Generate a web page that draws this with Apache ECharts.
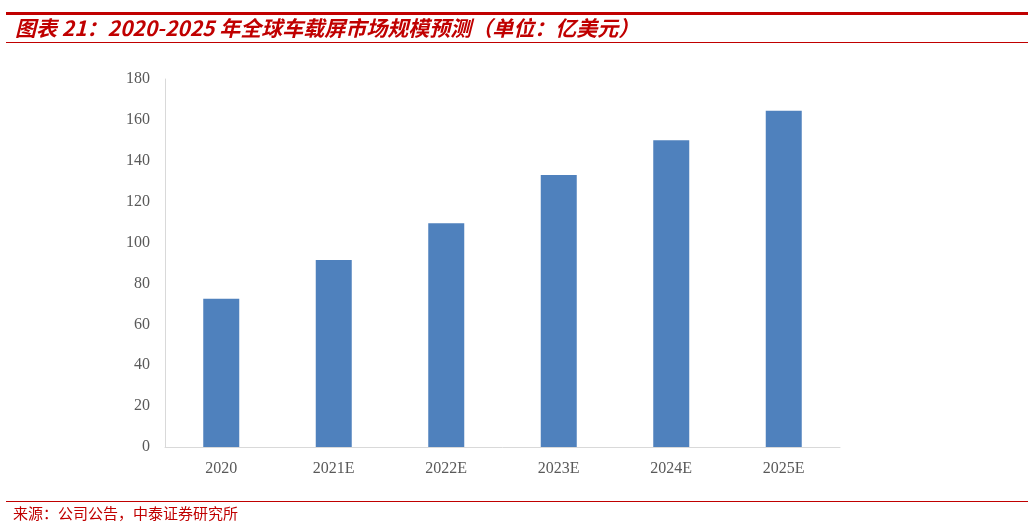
<!DOCTYPE html>
<html>
<head>
<meta charset="utf-8">
<script src="https://cdn.jsdelivr.net/npm/echarts@6/dist/echarts.min.js"></script>
<style>
html,body{margin:0;padding:0;background:#fff;}
#chart{width:1031px;height:525px;}
</style>
</head>
<body>
<div id="chart"></div>
<script>
const categories = ['2020', '2021E', '2022E', '2023E', '2024E', '2025E'];
const marketSize = [72.5, 91.5, 109.5, 133, 150, 164.5];
const yTicks = { min: 0, max: 180, interval: 20 };

const chart = echarts.init(document.getElementById('chart'));
const red = '#c00000';
chart.setOption({
  backgroundColor: '#fff',
  animation: false,
  title: [{
    text: '图表 21：2020-2025 年全球车载屏市场规模预测（单位：亿美元）',
    left: 10, top: 13,
    textStyle: { color: red, fontSize: 21, fontStyle: 'italic', fontWeight: 'bold', fontFamily: '"Noto Sans CJK SC", sans-serif' }
  }, {
    text: '来源：公司公告，中泰证券研究所',
    left: 8, top: 501,
    textStyle: { color: red, fontSize: 15, fontWeight: 'normal', fontFamily: '"Noto Sans CJK SC", sans-serif' }
  }],
  graphic: [
    { type: 'rect', shape: { x: 6, y: 12, width: 1022, height: 3 }, style: { fill: red } },
    { type: 'rect', shape: { x: 6, y: 42, width: 1022, height: 1 }, style: { fill: red } },
    { type: 'rect', shape: { x: 6, y: 501, width: 1022, height: 1 }, style: { fill: red } }
  ],
  grid: { left: 165, right: 191, top: 79, bottom: 78 },
  xAxis: {
    type: 'category',
    data: categories,
    axisLine: { lineStyle: { color: '#d9d9d9' } },
    axisTick: { show: false },
    axisLabel: { color: '#595959', fontSize: 16, fontFamily: '"Liberation Serif", serif', margin: 14 }
  },
  yAxis: {
    type: 'value',
    min: yTicks.min, max: yTicks.max, interval: yTicks.interval,
    axisLine: { show: true, lineStyle: { color: '#d9d9d9' } },
    axisTick: { show: false },
    splitLine: { show: false },
    axisLabel: { color: '#595959', fontSize: 16, fontFamily: '"Liberation Serif", serif', margin: 15 }
  },
  series: [{
    type: 'bar',
    data: marketSize,
    barWidth: 36,
    itemStyle: { color: '#4f81bd' }
  }]
});
</script>
</body>
</html>
